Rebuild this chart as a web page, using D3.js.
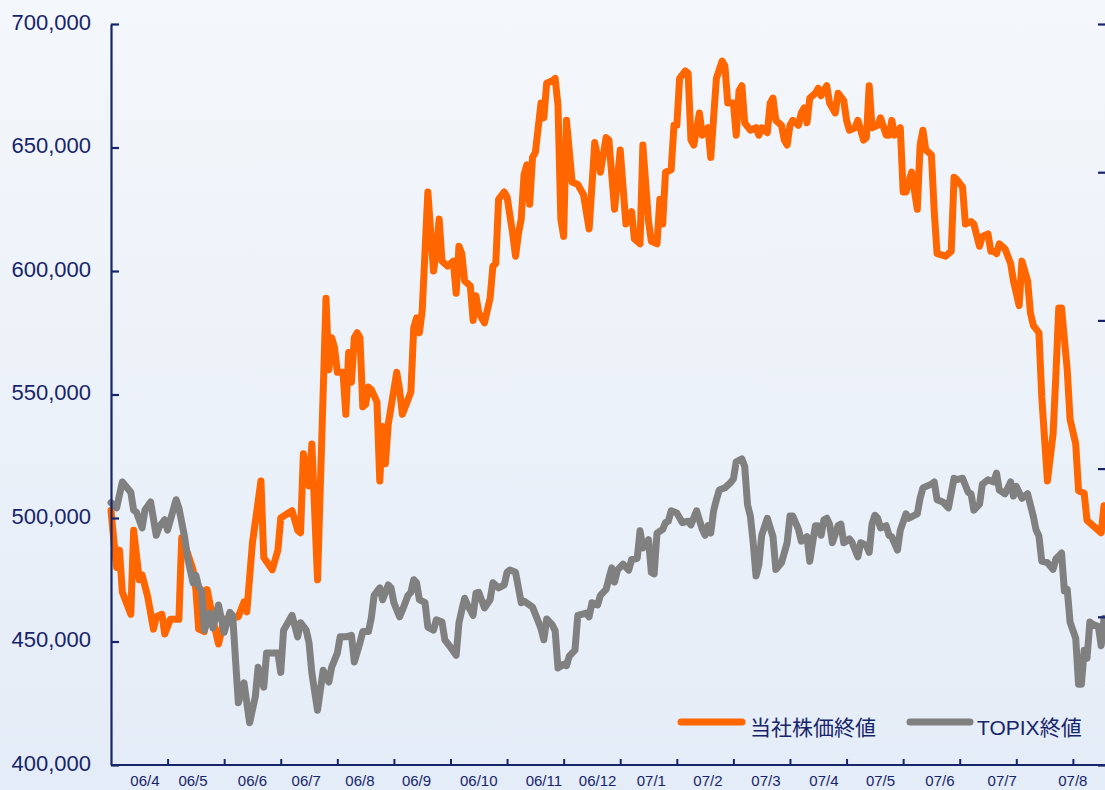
<!DOCTYPE html>
<html>
<head>
<meta charset="utf-8">
<script src="https://cdn.jsdelivr.net/npm/d3@7"></script>
<style>
html,body{margin:0;padding:0;overflow:hidden;background:#eef3f9;}
svg{display:block;}
</style>
</head>
<body>
<svg id="chart" width="1105" height="790"></svg>
<script>
// ---- data (trading-day index from early April 2006) ----
const monthLabels = ["06/4","06/5","06/6","06/7","06/8","06/9","06/10","06/11","06/12","07/1","07/2","07/3","07/4","07/5","07/6","07/7","07/8"];
const monthLabelDays = [12,29,50,69,88,108,130,153,172,191,211,231.5,252,272,293,315,340];
const tickDays = [20,40,60,80,100,120,140,160,180,200,220,240,260,280,300,320,340];
const leftTicks = [400000,450000,500000,550000,600000,650000,700000];
const rightTicks = [1400,1600,1800,2000,2200,2400];
const seriesNames = ["当社株価終値","TOPIX終値"];

// company share closing price (yen): [day, value]
const stockSeries = [
[0,503000],[1,491000],[2,480000],[3,487000],[4,470000],[7,461000],[8,495000],[10,475000],[11,477000],[13,468000],
[15,455000],[16,460000],[18,461000],[19,453000],[21,459000],[24,459000],[25,492000],[27,486000],[29,479000],[30,471000],
[31,455000],[33,454000],[34,471000],[36,459000],[38,449000],[40,459000],[45,460000],[47,466000],[48,462000],[50,490000],
[53,515000],[54,484000],[57,479000],[59,487000],[60,500000],[64,503000],[66,495000],[67,494000],[68,526000],[70,513000],
[71,530000],[73,475000],[76,589000],[77,560000],[78,573000],[79,569000],[80,559000],[82,559000],[83,542000],[84,567000],
[85,555000],[86,573000],[87,575000],[88,573000],[89,545000],[90,546000],[91,553000],[92,552000],[94,547000],[95,515000],
[96,537000],[97,522000],[98,538000],[99,545000],[101,559000],[102,552000],[103,542000],[106,551000],[107,577000],[108,581000],
[109,575000],[110,584000],[112,632000],[114,600000],[115,608000],[116,621000],[117,604000],[119,602000],[121,604000],[122,591000],
[123,610000],[124,607000],[125,596000],[127,594000],[128,580000],[129,590000],[130,583000],[132,579000],[134,589000],[135,602000],
[136,603000],[137,629000],[139,632000],[140,630000],[142,615000],[143,606000],[144,615000],[145,621000],[146,639000],[147,643000],
[148,627000],[149,646000],[150,648000],[152,668000],[153,662000],[154,676000],[156,677000],[157,678000],[158,667000],[159,621000],
[160,614000],[161,661000],[163,636000],[165,635000],[167,631000],[169,617000],[171,652000],[173,640000],[175,654000],[176,653000],
[178,625000],[180,649000],[182,619000],[184,624000],[185,613000],[187,611000],[188,651000],[190,620000],[191,612000],[193,611000],
[194,629000],[195,619000],[196,640000],[198,641000],[199,659000],[200,659000],[201,678000],[203,681000],[204,680000],[205,653000],
[206,651000],[208,664000],[209,655000],[211,658000],[212,646000],[214,678000],[216,685000],[217,683000],[218,668000],[220,668000],
[221,655000],[222,673000],[223,675000],[224,660000],[226,657000],[228,658000],[229,655000],[230,658000],[232,656000],[233,668000],
[234,670000],[235,661000],[237,659000],[238,653000],[239,651000],[240,659000],[241,661000],[243,659000],[244,664000],[245,666000],
[246,660000],[247,670000],[249,672000],[250,674000],[251,671000],[253,675000],[254,668000],[256,664000],[257,672000],[259,669000],
[260,661000],[261,657000],[263,658000],[264,661000],[266,653000],[267,654000],[268,675000],[269,658000],[271,659000],[272,662000],
[274,655000],[275,655000],[276,661000],[277,655000],[279,658000],[280,632000],[281,632000],[283,640000],[285,625000],[286,651000],
[287,657000],[288,649000],[290,647000],[291,624000],[292,607000],[295,606000],[297,608000],[298,638000],[299,637000],[301,634000],
[302,619000],[304,620000],[305,619000],[307,610000],[308,614000],[310,615000],[311,608000],[312,608000],[313,607000],[314,611000],
[316,609000],[318,603000],[319,596000],[321,586000],[322,604000],[324,596000],[325,583000],[326,578000],[328,575000],[329,549000],
[331,515000],[333,534000],[334,558000],[335,585000],[336,585000],[338,560000],[339,540000],[341,530000],[342,511000],[344,510000],
[345,499000],[347,497000],[350,494000],[351,505000]
];

// TOPIX close (points, right axis): [day, value]
const topixSeries = [
[0,1754],[2,1747],[4,1782],[7,1768],[8,1744],[9,1741],[11,1720],[12,1744],[14,1755],[16,1710],
[17,1721],[19,1731],[20,1717],[23,1758],[24,1747],[26,1708],[27,1681],[29,1646],[30,1656],[31,1640],
[32,1636],[33,1582],[35,1605],[36,1585],[38,1616],[40,1579],[42,1606],[43,1602],[45,1484],[47,1511],
[49,1457],[51,1492],[52,1532],[54,1505],[55,1551],[59,1551],[60,1525],[61,1582],[64,1602],[66,1573],
[67,1592],[69,1582],[70,1565],[71,1524],[73,1474],[75,1528],[77,1512],[78,1532],[80,1551],[81,1573],
[83,1573],[85,1575],[86,1539],[88,1565],[89,1580],[91,1580],[92,1598],[93,1629],[95,1639],[96,1623],
[98,1643],[99,1639],[100,1619],[102,1600],[103,1609],[105,1629],[106,1633],[107,1650],[108,1646],[109,1623],
[111,1619],[112,1586],[114,1582],[115,1596],[117,1593],[118,1569],[120,1559],[122,1548],[123,1592],[124,1609],
[125,1625],[126,1616],[128,1602],[129,1632],[130,1633],[132,1612],[134,1623],[135,1646],[137,1639],[139,1643],
[140,1660],[141,1663],[143,1660],[145,1619],[146,1621],[149,1613],[151,1594],[152,1584],[153,1569],[154,1597],
[156,1589],[157,1581],[158,1531],[160,1536],[161,1534],[162,1547],[164,1555],[165,1602],[168,1605],[169,1600],
[170,1619],[172,1616],[173,1629],[175,1637],[176,1652],[177,1666],[178,1647],[179,1663],[181,1671],[183,1663],
[184,1677],[186,1679],[187,1716],[188,1693],[190,1704],[191,1660],[192,1658],[193,1713],[195,1718],[196,1727],
[197,1729],[198,1743],[200,1740],[202,1727],[204,1729],[205,1724],[207,1743],[209,1718],[210,1710],[211,1723],
[212,1713],[213,1743],[214,1758],[215,1771],[217,1774],[219,1781],[220,1786],[221,1809],[223,1813],[224,1803],
[225,1751],[226,1736],[227,1700],[228,1655],[229,1670],[230,1710],[232,1733],[234,1708],[235,1664],[237,1673],
[239,1700],[240,1736],[241,1736],[243,1718],[244,1702],[246,1708],[247,1675],[248,1700],[249,1723],[250,1723],
[251,1710],[252,1731],[253,1733],[254,1725],[255,1700],[257,1723],[258,1725],[259,1700],[261,1705],[262,1700],
[264,1681],[265,1700],[267,1696],[268,1687],[269,1725],[270,1737],[271,1733],[272,1720],[274,1723],[275,1710],
[276,1708],[278,1690],[279,1717],[281,1739],[282,1733],[285,1739],[286,1760],[287,1774],[290,1779],[291,1782],
[292,1758],[294,1755],[296,1747],[298,1787],[299,1785],[301,1787],[303,1768],[304,1766],[305,1744],[307,1752],
[308,1779],[310,1785],[312,1782],[313,1794],[314,1771],[316,1766],[318,1782],[319,1763],[320,1776],[322,1760],
[324,1766],[326,1736],[327,1717],[328,1709],[329,1675],[331,1673],[333,1664],[334,1678],[336,1686],[337,1635],
[338,1637],[339,1593],[341,1571],[342,1509],[343,1509],[344,1555],[345,1544],[346,1593],[347,1590],[349,1587],
[350,1561],[351,1598]
];

// ---- drawing ----
const svg = d3.select("#chart");
const W = 1105, H = 790;
const navy = "#16256b";
const orange = "#ff6600";
const gray = "#808080";
const font = "'Liberation Sans', Arial, 'Noto Sans CJK JP', sans-serif";

const defs = svg.append("defs");
const grad = defs.append("linearGradient").attr("id","bg").attr("x1",0).attr("y1",0).attr("x2",0).attr("y2",1);
grad.append("stop").attr("offset","0%").attr("stop-color","#f4f7fb");
grad.append("stop").attr("offset","100%").attr("stop-color","#e4ecf7");
svg.append("rect").attr("width",W).attr("height",H).attr("fill","url(#bg)");

const plot = {left:111, right:1104, top:24, bottom:765};
const x = d3.scaleLinear().domain([0,351]).range([plot.left, plot.right]);
const yL = d3.scaleLinear().domain([400000,700000]).range([plot.bottom, plot.top]);
const yR = d3.scaleLinear().domain([1400,2400]).range([plot.bottom, plot.top]);

// lines
const stockLine = d3.line().x(d=>x(d[0])).y(d=>yL(d[1]));
const topixLine = d3.line().x(d=>x(d[0])).y(d=>yR(d[1]));

svg.append("path").datum(stockSeries).attr("d",stockLine)
  .attr("fill","none").attr("stroke",orange).attr("stroke-width",7)
  .attr("stroke-linejoin","round").attr("stroke-linecap","round");
svg.append("path").datum(topixSeries).attr("d",topixLine)
  .attr("fill","none").attr("stroke",gray).attr("stroke-width",7)
  .attr("stroke-linejoin","round").attr("stroke-linecap","round");

// left axis
const gL = svg.append("g").attr("transform",`translate(${plot.left},0)`)
  .call(d3.axisLeft(yL).tickValues(leftTicks).tickSizeInner(-8).tickSizeOuter(0).tickPadding(20)
        .tickFormat(d3.format(",")));
gL.select(".domain").attr("stroke",navy).attr("stroke-width",2.2);
gL.selectAll(".tick line").attr("stroke",navy).attr("stroke-width",2.2);
gL.selectAll(".tick text").attr("fill",navy).attr("font-family",font).attr("font-size",22).attr("dy","0.24em");

// right axis (labels fall outside the picture)
const gR = svg.append("g").attr("transform",`translate(1106,0)`)
  .call(d3.axisRight(yR).tickValues(rightTicks).tickSizeInner(-8).tickSizeOuter(0).tickFormat(()=>""));
gR.select(".domain").attr("stroke",navy).attr("stroke-width",2.2);
gR.selectAll(".tick line").attr("stroke",navy).attr("stroke-width",2.2);

// bottom axis
const gB = svg.append("g").attr("transform",`translate(0,${plot.bottom})`)
  .call(d3.axisBottom(x).tickValues(tickDays).tickSizeInner(-6).tickSizeOuter(0).tickFormat(()=>""));
gB.select(".domain").attr("stroke",navy).attr("stroke-width",2.2).attr("d",`M${plot.left},0H${W}`);
gB.selectAll(".tick line").attr("stroke",navy).attr("stroke-width",2);

svg.append("g").selectAll("text").data(monthLabels).join("text")
  .attr("x",(d,i)=>x(monthLabelDays[i]))
  .attr("y",786)
  .attr("text-anchor","middle")
  .attr("fill",navy).attr("font-family",font).attr("font-size",15)
  .text(d=>d);

// legend
const legend = [
  {name:seriesNames[0], color:orange, x1:681, x2:742, tx:750},
  {name:seriesNames[1], color:gray, x1:910, x2:970, tx:977}
];
const lg = svg.append("g");
legend.forEach(l=>{
  lg.append("line").attr("x1",l.x1).attr("x2",l.x2).attr("y1",722).attr("y2",722)
    .attr("stroke",l.color).attr("stroke-width",7).attr("stroke-linecap","round");
  lg.append("text").attr("x",l.tx).attr("y",735).attr("fill",navy)
    .attr("font-family",font).attr("font-size",21).text(l.name);
});
</script>
</body>
</html>
